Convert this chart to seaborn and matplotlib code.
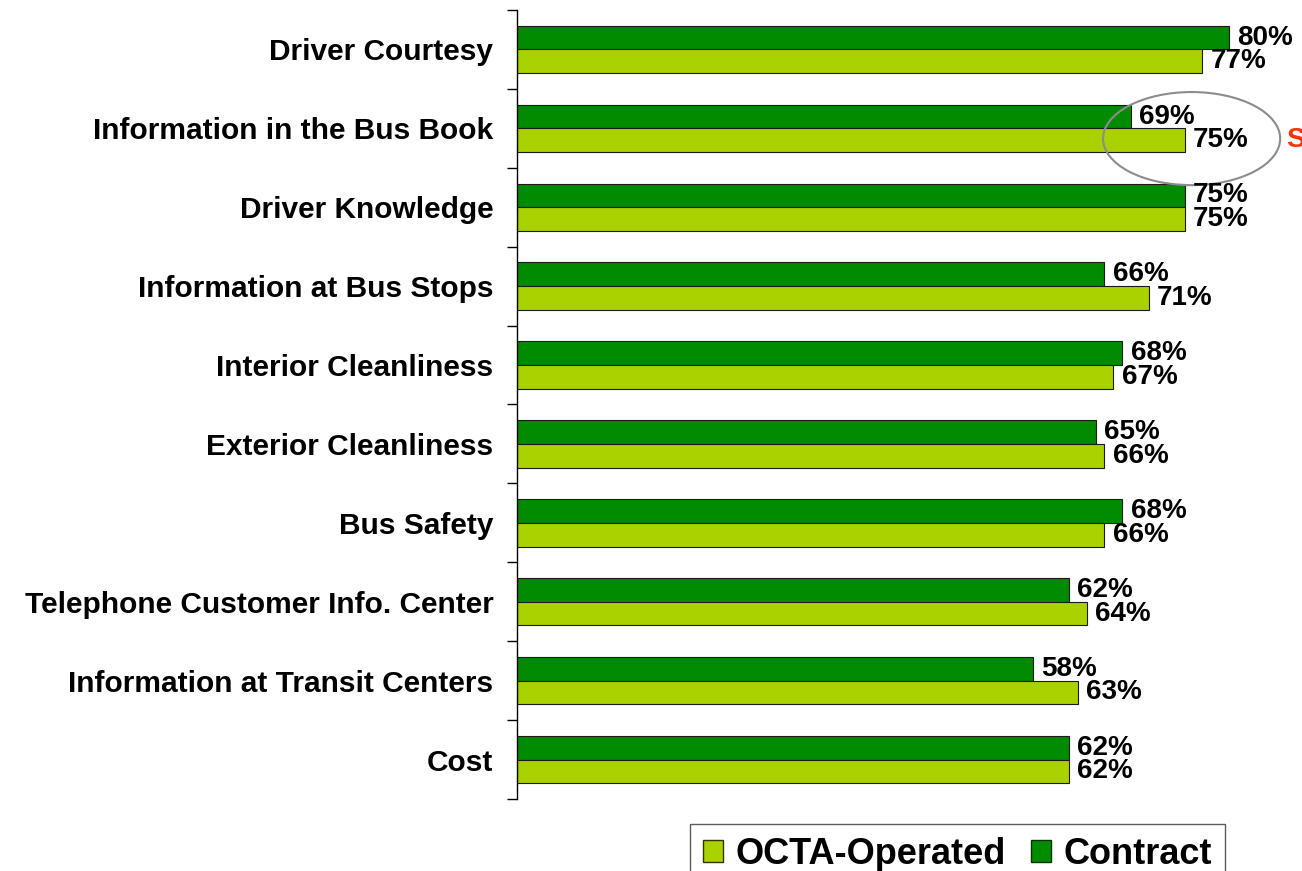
import matplotlib
matplotlib.use("Agg")
import matplotlib.pyplot as plt
from matplotlib.patches import Ellipse, Patch
import seaborn as sns
import pandas as pd

categories = ["Driver Courtesy", "Information in the Bus Book", "Driver Knowledge",
              "Information at Bus Stops", "Interior Cleanliness", "Exterior Cleanliness",
              "Bus Safety", "Telephone Customer Info. Center",
              "Information at Transit Centers", "Cost"]
contract = [80, 69, 75, 66, 68, 65, 68, 62, 58, 62]
octa = [77, 75, 75, 71, 67, 66, 66, 64, 63, 62]
series_names = ["Contract", "OCTA-Operated"]
colors = {"Contract": "#008C00", "OCTA-Operated": "#AAD200"}

df = pd.DataFrame({
    "category": categories * 2,
    "value": contract + octa,
    "series": ["Contract"] * len(categories) + ["OCTA-Operated"] * len(categories),
})

sns.set_style("white")
plt.rcParams["font.family"] = ["Liberation Sans", "DejaVu Sans"]
plt.rcParams["font.weight"] = "bold"
plt.rcParams["text.color"] = "black"
plt.rcParams["ytick.labelcolor"] = "black"

fig = plt.figure(figsize=(13.02, 8.71), dpi=100)
ax = fig.add_axes([517 / 1302, 72 / 871, 1 - 517 / 1302, (799 - 10) / 871])

sns.barplot(data=df, y="category", x="value", hue="series", hue_order=series_names,
            order=categories, palette=colors, width=0.6, orient="h",
            edgecolor="#1a1a1a", linewidth=0.8, ax=ax, legend=False, saturation=1)

for cont in ax.containers:
    ax.bar_label(cont, fmt="%d%%", padding=6, fontsize=20, fontweight="bold",
                 color="black")

ax.set_xlim(0, (1302 - 517) / 8.9)
ax.set_ylim(len(categories) - 0.5, -0.5)
ax.set_xlabel("")
ax.set_ylabel("")
ax.set_xticks([])
for s in ["top", "right", "bottom"]:
    ax.spines[s].set_visible(False)
ax.spines["left"].set_color("black")
ax.spines["left"].set_linewidth(1)

ax.set_yticks(range(len(categories)))
ax.set_yticklabels(categories, fontsize=21.5, fontweight="bold", color="black")
ax.tick_params(axis="y", which="major", length=0, pad=17)
ax.set_yticks([i - 0.5 for i in range(len(categories) + 1)], minor=True)
ax.tick_params(axis="y", which="minor", length=7, width=1, color="black", left=True)

ell = Ellipse((75.8, 1.13), 19.9, 1.18, fill=False, edgecolor="#8c8c8c",
              linewidth=1.5, clip_on=False)
ax.add_patch(ell)
ax.text(86.4, 1.15, "S", color="#FF3300", fontsize=20, fontweight="bold",
        va="center", ha="left", clip_on=False)

handles = [Patch(facecolor=colors["OCTA-Operated"], edgecolor="#333300", label="OCTA-Operated"),
           Patch(facecolor=colors["Contract"], edgecolor="#003300", label="Contract")]
leg = fig.legend(handles=handles, loc="upper left", bbox_to_anchor=(690 / 1302, 1 - 824 / 871),
                 ncol=2, frameon=True, fancybox=False, handlelength=0.56,
                 handleheight=0.56, handletextpad=0.34, columnspacing=0.7,
                 borderpad=0.36, borderaxespad=0,
                 prop={"weight": "bold", "size": 26})
leg.get_frame().set_edgecolor("#333333")
leg.get_frame().set_linewidth(1)
for t in leg.get_texts():
    t.set_color("black")

fig.savefig("out.png", dpi=100)
